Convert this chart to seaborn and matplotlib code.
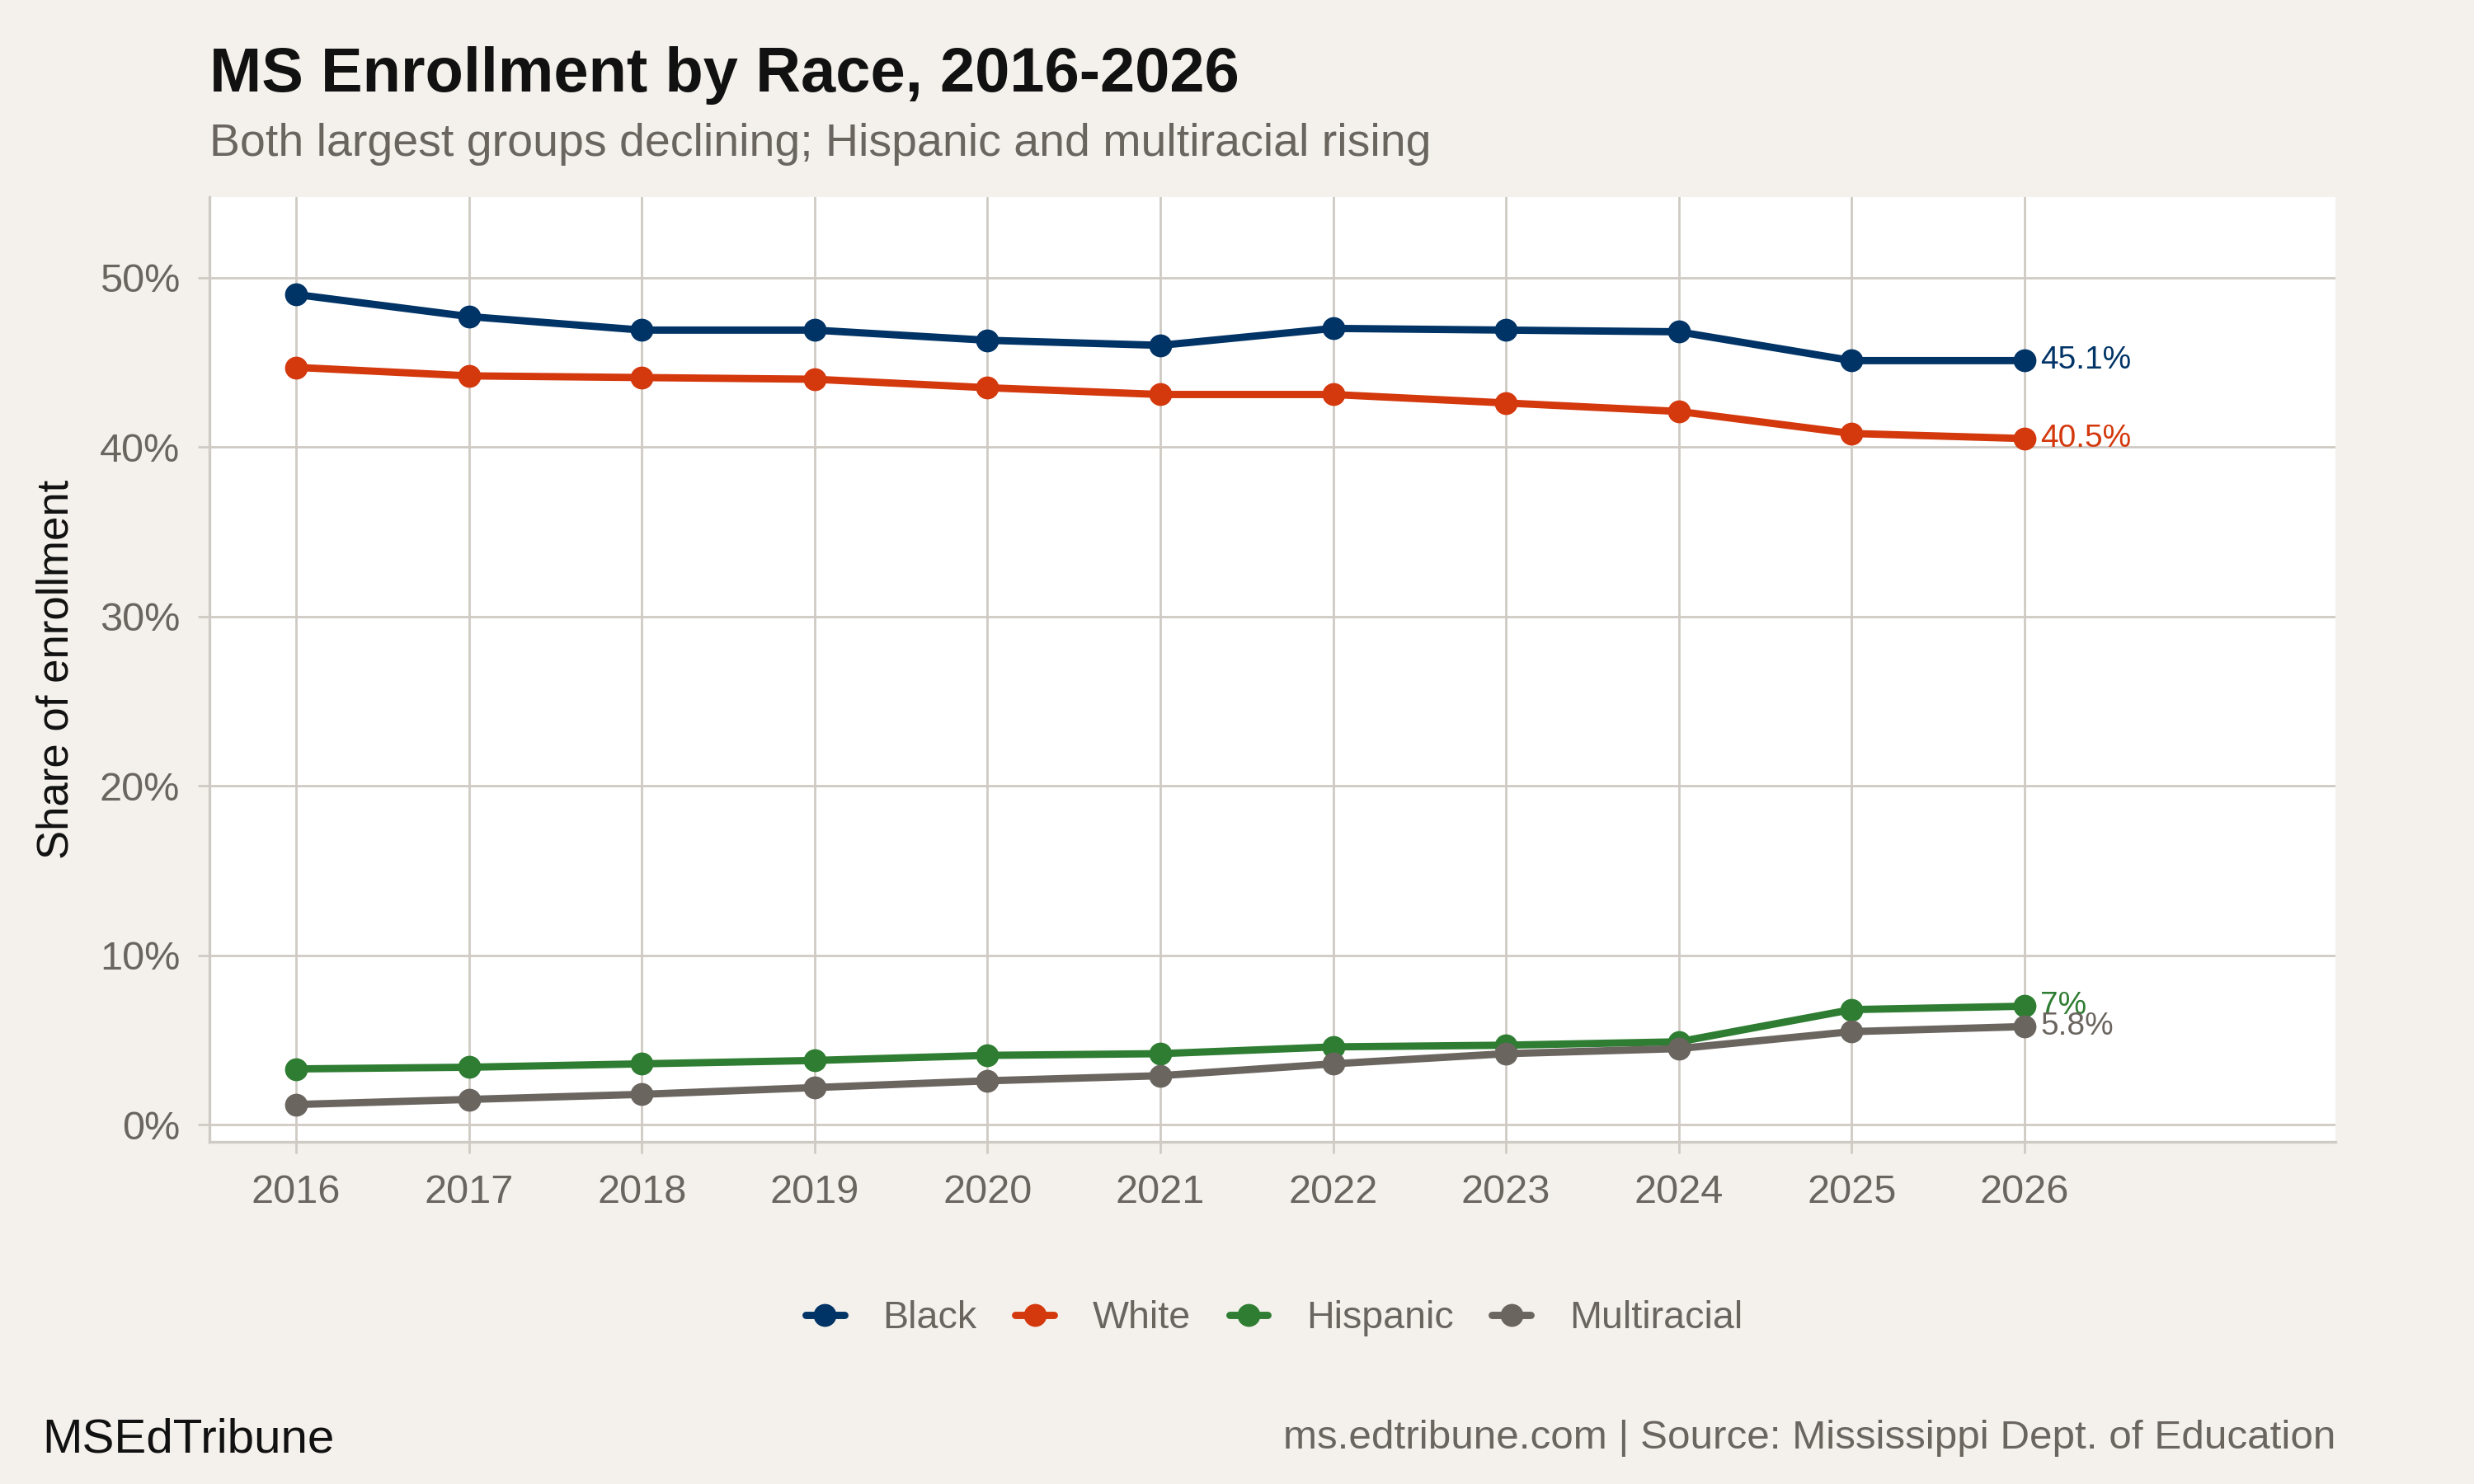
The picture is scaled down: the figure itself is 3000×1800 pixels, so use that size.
import pandas as pd
import matplotlib.pyplot as plt
import seaborn as sns
from matplotlib.ticker import FuncFormatter

# data (percent of enrollment)
years = [2016, 2017, 2018, 2019, 2020, 2021, 2022, 2023, 2024, 2025, 2026]
black = [49.0, 47.7, 46.9, 46.9, 46.3, 46.0, 47.0, 46.9, 46.8, 45.1, 45.1]
white = [44.7, 44.2, 44.1, 44.0, 43.5, 43.1, 43.1, 42.6, 42.1, 40.8, 40.5]
hispanic = [3.3, 3.4, 3.6, 3.8, 4.1, 4.2, 4.6, 4.7, 4.9, 6.8, 7.0]
multiracial = [1.2, 1.5, 1.8, 2.2, 2.6, 2.9, 3.6, 4.2, 4.5, 5.5, 5.8]
end_labels = ["45.1%", "40.5%", "7%", "5.8%"]

races = ["Black", "White", "Hispanic", "Multiracial"]
colors = ["#003366", "#D4380D", "#2E7D32", "#6B6560"]

df = pd.DataFrame({
    "Year": years * 4,
    "Share": black + white + hispanic + multiracial,
    "Race": [r for r in races for _ in years],
})

BG = "#F4F1EC"
GRID = "#CFCAC3"
MUTED = "#6B6560"

sns.set_theme(style="whitegrid")
plt.rcParams["font.family"] = ["Liberation Sans", "DejaVu Sans"]

fig = plt.figure(figsize=(15, 9), dpi=200, facecolor=BG)
ax = fig.add_axes([0.0848, 0.2306, 0.8592, 0.6366])
ax.set_facecolor("white")

sns.lineplot(data=df, x="Year", y="Share", hue="Race", hue_order=races,
             palette=colors, marker="o", markersize=10, markeredgewidth=0,
             linewidth=3.2, ax=ax)

# end-of-line value labels
for race, col, lab in zip(races, colors, end_labels):
    last = df[(df["Race"] == race) & (df["Year"] == years[-1])]["Share"].iloc[0]
    ax.annotate(lab, xy=(years[-1], last), xytext=(7, 0), textcoords="offset points",
                ha="left", va="center", fontsize=14, color=col)

ax.set_xlim(2015.5, 2027.8)
ax.set_ylim(-1.0, 54.75)
ax.set_xticks(years)
ax.set_yticks([0, 10, 20, 30, 40, 50])
ax.yaxis.set_major_formatter(FuncFormatter(lambda v, p: f"{v:.0f}%"))

ax.grid(True, color=GRID, linewidth=1.0)
for s in ["top", "right"]:
    ax.spines[s].set_visible(False)
for s in ["left", "bottom"]:
    ax.spines[s].set_color(GRID)
    ax.spines[s].set_linewidth(1.2)
ax.tick_params(axis="both", colors=GRID, labelcolor=MUTED, labelsize=17.5,
               length=5, width=1.0, left=True, bottom=True)
ax.tick_params(axis="x", pad=9)
ax.tick_params(axis="y", pad=8)

ax.set_xlabel("")
ax.set_ylabel("Share of enrollment", fontsize=19, color="#111111", labelpad=10)

handles, labels = ax.get_legend_handles_labels()
ax.get_legend().remove()
fig.legend(handles, labels, loc="center", bbox_to_anchor=(0.515, 0.1116), ncol=4,
           frameon=False, fontsize=16.8, labelcolor=MUTED, handlelength=1.0,
           columnspacing=1.0, handletextpad=1.0)

fig.text(0.0848, 0.949, "MS Enrollment by Race, 2016-2026", fontsize=27.3,
         fontweight="bold", color="#111111", ha="left", va="center")
fig.text(0.0848, 0.903, "Both largest groups declining; Hispanic and multiracial rising",
         fontsize=20, color=MUTED, ha="left", va="center")
fig.text(0.0172, 0.0297, "MSEdTribune", fontsize=21, color="#111111",
         ha="left", va="center")
fig.text(0.944, 0.031, "ms.edtribune.com | Source: Mississippi Dept. of Education",
         fontsize=17.8, color=MUTED, ha="right", va="center")

fig.savefig("out.png", dpi=200, facecolor=BG)
